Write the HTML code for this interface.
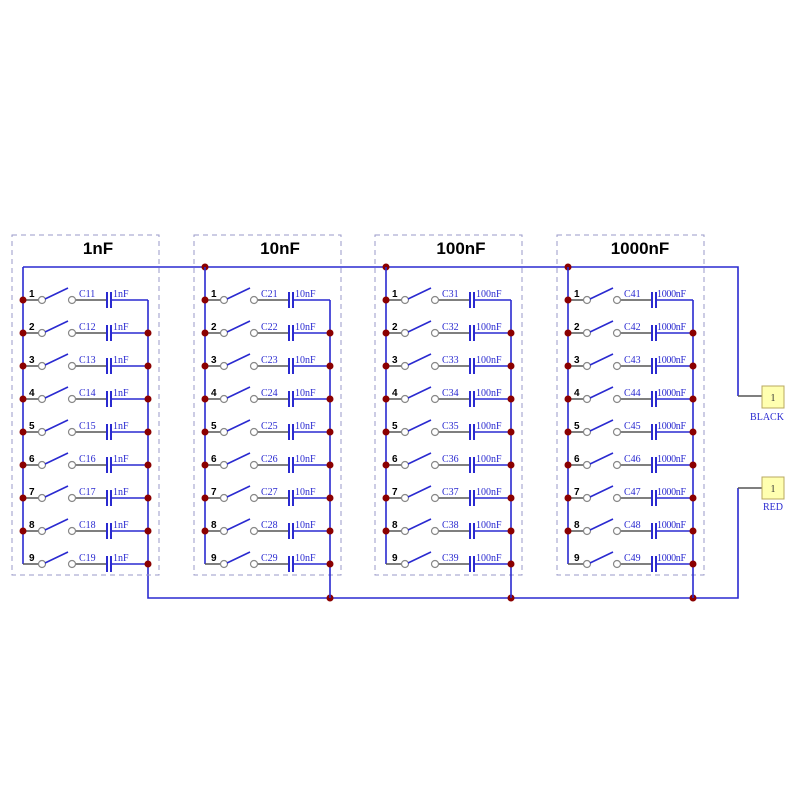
<!DOCTYPE html>
<html><head><meta charset="utf-8"><style>
html,body{margin:0;padding:0;background:#fff}
svg{display:block}
.g{stroke:#555;stroke-width:1.6;fill:none}
.b{stroke:#2a2ad0;stroke-width:1.6;fill:none}
.p{stroke:#2a2ad0;stroke-width:2;fill:none}
circle.o{fill:#fff;stroke:#888;stroke-width:1.2}
circle.d{fill:#8b0000}
.n{font:bold 10px "Liberation Sans",sans-serif;fill:#000}
.l{font:10px "Liberation Serif",serif;fill:#2a2ad0}
.t{font:bold 17px "Liberation Sans",sans-serif;fill:#000}
.box{stroke:#9a9ac8;stroke-width:1;stroke-dasharray:5,4;fill:none}
</style></head><body>
<svg width="800" height="800" viewBox="0 0 800 800">
<defs>
<g id="sw"><path class="g" d="M0 0H15.5M52.5 0H84"/><circle class="o" cx="19" cy="0" r="3.5"/><circle class="o" cx="49" cy="0" r="3.5"/><path class="b" d="M22 -1L45 -12M88 0H125"/><path class="p" d="M84 -8V8M88 -8V8"/></g>
</defs>
<!-- buses -->
<path class="b" d="M23 267H738V396M148 564V598H738V488"/>
<path class="g" d="M738 396H762M738 488H762"/>
<rect x="762" y="386" width="22" height="22" fill="#ffffb0" stroke="#b8a860"/>
<rect x="762" y="477" width="22" height="22" fill="#ffffb0" stroke="#b8a860"/>
<text class="l" x="773" y="401" text-anchor="middle" style="fill:#333">1</text>
<text class="l" x="773" y="492" text-anchor="middle" style="fill:#333">1</text>
<text class="l" x="767" y="420" text-anchor="middle">BLACK</text>
<text class="l" x="773" y="510" text-anchor="middle">RED</text>
<circle class="d" cx="205" cy="267" r="3.5"/><circle class="d" cx="386" cy="267" r="3.5"/><circle class="d" cx="568" cy="267" r="3.5"/>
<circle class="d" cx="330" cy="598" r="3.5"/><circle class="d" cx="511" cy="598" r="3.5"/><circle class="d" cx="693" cy="598" r="3.5"/>

<!-- group 1 -->
<g transform="translate(23,0)">
<rect class="box" x="-11" y="235" width="147" height="340"/>
<text class="t" x="75" y="254" text-anchor="middle">1nF</text>
<path class="b" d="M0 267V564M125 300V564"/>
<use href="#sw" y="300"/><use href="#sw" y="333"/><use href="#sw" y="366"/><use href="#sw" y="399"/><use href="#sw" y="432"/><use href="#sw" y="465"/><use href="#sw" y="498"/><use href="#sw" y="531"/><use href="#sw" y="564"/>
<text class="n" x="6" y="297">1</text><text class="n" x="6" y="330">2</text><text class="n" x="6" y="363">3</text><text class="n" x="6" y="396">4</text><text class="n" x="6" y="429">5</text><text class="n" x="6" y="462">6</text><text class="n" x="6" y="495">7</text><text class="n" x="6" y="528">8</text><text class="n" x="6" y="561">9</text>
<text class="l" x="56" y="297">C11</text><text class="l" x="56" y="330">C12</text><text class="l" x="56" y="363">C13</text><text class="l" x="56" y="396">C14</text><text class="l" x="56" y="429">C15</text><text class="l" x="56" y="462">C16</text><text class="l" x="56" y="495">C17</text><text class="l" x="56" y="528">C18</text><text class="l" x="56" y="561">C19</text>
<text class="l" x="90" y="297">1nF</text><text class="l" x="90" y="330">1nF</text><text class="l" x="90" y="363">1nF</text><text class="l" x="90" y="396">1nF</text><text class="l" x="90" y="429">1nF</text><text class="l" x="90" y="462">1nF</text><text class="l" x="90" y="495">1nF</text><text class="l" x="90" y="528">1nF</text><text class="l" x="90" y="561">1nF</text>
<g class="dots"><circle class="d" cx="0" cy="300" r="3.5"/><circle class="d" cx="0" cy="333" r="3.5"/><circle class="d" cx="0" cy="366" r="3.5"/><circle class="d" cx="0" cy="399" r="3.5"/><circle class="d" cx="0" cy="432" r="3.5"/><circle class="d" cx="0" cy="465" r="3.5"/><circle class="d" cx="0" cy="498" r="3.5"/><circle class="d" cx="0" cy="531" r="3.5"/>
<circle class="d" cx="125" cy="333" r="3.5"/><circle class="d" cx="125" cy="366" r="3.5"/><circle class="d" cx="125" cy="399" r="3.5"/><circle class="d" cx="125" cy="432" r="3.5"/><circle class="d" cx="125" cy="465" r="3.5"/><circle class="d" cx="125" cy="498" r="3.5"/><circle class="d" cx="125" cy="531" r="3.5"/><circle class="d" cx="125" cy="564" r="3.5"/></g>
</g>

<!-- group 2 -->
<g transform="translate(205,0)">
<rect class="box" x="-11" y="235" width="147" height="340"/>
<text class="t" x="75" y="254" text-anchor="middle">10nF</text>
<path class="b" d="M0 267V564M125 300V598"/>
<use href="#sw" y="300"/><use href="#sw" y="333"/><use href="#sw" y="366"/><use href="#sw" y="399"/><use href="#sw" y="432"/><use href="#sw" y="465"/><use href="#sw" y="498"/><use href="#sw" y="531"/><use href="#sw" y="564"/>
<text class="n" x="6" y="297">1</text><text class="n" x="6" y="330">2</text><text class="n" x="6" y="363">3</text><text class="n" x="6" y="396">4</text><text class="n" x="6" y="429">5</text><text class="n" x="6" y="462">6</text><text class="n" x="6" y="495">7</text><text class="n" x="6" y="528">8</text><text class="n" x="6" y="561">9</text>
<text class="l" x="56" y="297">C21</text><text class="l" x="56" y="330">C22</text><text class="l" x="56" y="363">C23</text><text class="l" x="56" y="396">C24</text><text class="l" x="56" y="429">C25</text><text class="l" x="56" y="462">C26</text><text class="l" x="56" y="495">C27</text><text class="l" x="56" y="528">C28</text><text class="l" x="56" y="561">C29</text>
<text class="l" x="90" y="297">10nF</text><text class="l" x="90" y="330">10nF</text><text class="l" x="90" y="363">10nF</text><text class="l" x="90" y="396">10nF</text><text class="l" x="90" y="429">10nF</text><text class="l" x="90" y="462">10nF</text><text class="l" x="90" y="495">10nF</text><text class="l" x="90" y="528">10nF</text><text class="l" x="90" y="561">10nF</text>
<circle class="d" cx="0" cy="300" r="3.5"/><circle class="d" cx="0" cy="333" r="3.5"/><circle class="d" cx="0" cy="366" r="3.5"/><circle class="d" cx="0" cy="399" r="3.5"/><circle class="d" cx="0" cy="432" r="3.5"/><circle class="d" cx="0" cy="465" r="3.5"/><circle class="d" cx="0" cy="498" r="3.5"/><circle class="d" cx="0" cy="531" r="3.5"/>
<circle class="d" cx="125" cy="333" r="3.5"/><circle class="d" cx="125" cy="366" r="3.5"/><circle class="d" cx="125" cy="399" r="3.5"/><circle class="d" cx="125" cy="432" r="3.5"/><circle class="d" cx="125" cy="465" r="3.5"/><circle class="d" cx="125" cy="498" r="3.5"/><circle class="d" cx="125" cy="531" r="3.5"/><circle class="d" cx="125" cy="564" r="3.5"/>
</g>

<!-- group 3 -->
<g transform="translate(386,0)">
<rect class="box" x="-11" y="235" width="147" height="340"/>
<text class="t" x="75" y="254" text-anchor="middle">100nF</text>
<path class="b" d="M0 267V564M125 300V598"/>
<use href="#sw" y="300"/><use href="#sw" y="333"/><use href="#sw" y="366"/><use href="#sw" y="399"/><use href="#sw" y="432"/><use href="#sw" y="465"/><use href="#sw" y="498"/><use href="#sw" y="531"/><use href="#sw" y="564"/>
<text class="n" x="6" y="297">1</text><text class="n" x="6" y="330">2</text><text class="n" x="6" y="363">3</text><text class="n" x="6" y="396">4</text><text class="n" x="6" y="429">5</text><text class="n" x="6" y="462">6</text><text class="n" x="6" y="495">7</text><text class="n" x="6" y="528">8</text><text class="n" x="6" y="561">9</text>
<text class="l" x="56" y="297">C31</text><text class="l" x="56" y="330">C32</text><text class="l" x="56" y="363">C33</text><text class="l" x="56" y="396">C34</text><text class="l" x="56" y="429">C35</text><text class="l" x="56" y="462">C36</text><text class="l" x="56" y="495">C37</text><text class="l" x="56" y="528">C38</text><text class="l" x="56" y="561">C39</text>
<text class="l" x="90" y="297">100nF</text><text class="l" x="90" y="330">100nF</text><text class="l" x="90" y="363">100nF</text><text class="l" x="90" y="396">100nF</text><text class="l" x="90" y="429">100nF</text><text class="l" x="90" y="462">100nF</text><text class="l" x="90" y="495">100nF</text><text class="l" x="90" y="528">100nF</text><text class="l" x="90" y="561">100nF</text>
<circle class="d" cx="0" cy="300" r="3.5"/><circle class="d" cx="0" cy="333" r="3.5"/><circle class="d" cx="0" cy="366" r="3.5"/><circle class="d" cx="0" cy="399" r="3.5"/><circle class="d" cx="0" cy="432" r="3.5"/><circle class="d" cx="0" cy="465" r="3.5"/><circle class="d" cx="0" cy="498" r="3.5"/><circle class="d" cx="0" cy="531" r="3.5"/>
<circle class="d" cx="125" cy="333" r="3.5"/><circle class="d" cx="125" cy="366" r="3.5"/><circle class="d" cx="125" cy="399" r="3.5"/><circle class="d" cx="125" cy="432" r="3.5"/><circle class="d" cx="125" cy="465" r="3.5"/><circle class="d" cx="125" cy="498" r="3.5"/><circle class="d" cx="125" cy="531" r="3.5"/><circle class="d" cx="125" cy="564" r="3.5"/>
</g>

<!-- group 4 -->
<g transform="translate(568,0)">
<rect class="box" x="-11" y="235" width="147" height="340"/>
<text class="t" x="72" y="254" text-anchor="middle">1000nF</text>
<path class="b" d="M0 267V564M125 300V598"/>
<use href="#sw" y="300"/><use href="#sw" y="333"/><use href="#sw" y="366"/><use href="#sw" y="399"/><use href="#sw" y="432"/><use href="#sw" y="465"/><use href="#sw" y="498"/><use href="#sw" y="531"/><use href="#sw" y="564"/>
<text class="n" x="6" y="297">1</text><text class="n" x="6" y="330">2</text><text class="n" x="6" y="363">3</text><text class="n" x="6" y="396">4</text><text class="n" x="6" y="429">5</text><text class="n" x="6" y="462">6</text><text class="n" x="6" y="495">7</text><text class="n" x="6" y="528">8</text><text class="n" x="6" y="561">9</text>
<text class="l" x="56" y="297">C41</text><text class="l" x="56" y="330">C42</text><text class="l" x="56" y="363">C43</text><text class="l" x="56" y="396">C44</text><text class="l" x="56" y="429">C45</text><text class="l" x="56" y="462">C46</text><text class="l" x="56" y="495">C47</text><text class="l" x="56" y="528">C48</text><text class="l" x="56" y="561">C49</text>
<text class="l" x="89" y="297" style="letter-spacing:-0.3px">1000nF</text><text class="l" x="89" y="330" style="letter-spacing:-0.3px">1000nF</text><text class="l" x="89" y="363" style="letter-spacing:-0.3px">1000nF</text><text class="l" x="89" y="396" style="letter-spacing:-0.3px">1000nF</text><text class="l" x="89" y="429" style="letter-spacing:-0.3px">1000nF</text><text class="l" x="89" y="462" style="letter-spacing:-0.3px">1000nF</text><text class="l" x="89" y="495" style="letter-spacing:-0.3px">1000nF</text><text class="l" x="89" y="528" style="letter-spacing:-0.3px">1000nF</text><text class="l" x="89" y="561" style="letter-spacing:-0.3px">1000nF</text>
<circle class="d" cx="0" cy="300" r="3.5"/><circle class="d" cx="0" cy="333" r="3.5"/><circle class="d" cx="0" cy="366" r="3.5"/><circle class="d" cx="0" cy="399" r="3.5"/><circle class="d" cx="0" cy="432" r="3.5"/><circle class="d" cx="0" cy="465" r="3.5"/><circle class="d" cx="0" cy="498" r="3.5"/><circle class="d" cx="0" cy="531" r="3.5"/>
<circle class="d" cx="125" cy="333" r="3.5"/><circle class="d" cx="125" cy="366" r="3.5"/><circle class="d" cx="125" cy="399" r="3.5"/><circle class="d" cx="125" cy="432" r="3.5"/><circle class="d" cx="125" cy="465" r="3.5"/><circle class="d" cx="125" cy="498" r="3.5"/><circle class="d" cx="125" cy="531" r="3.5"/><circle class="d" cx="125" cy="564" r="3.5"/>
</g>
</svg>
</body></html>
